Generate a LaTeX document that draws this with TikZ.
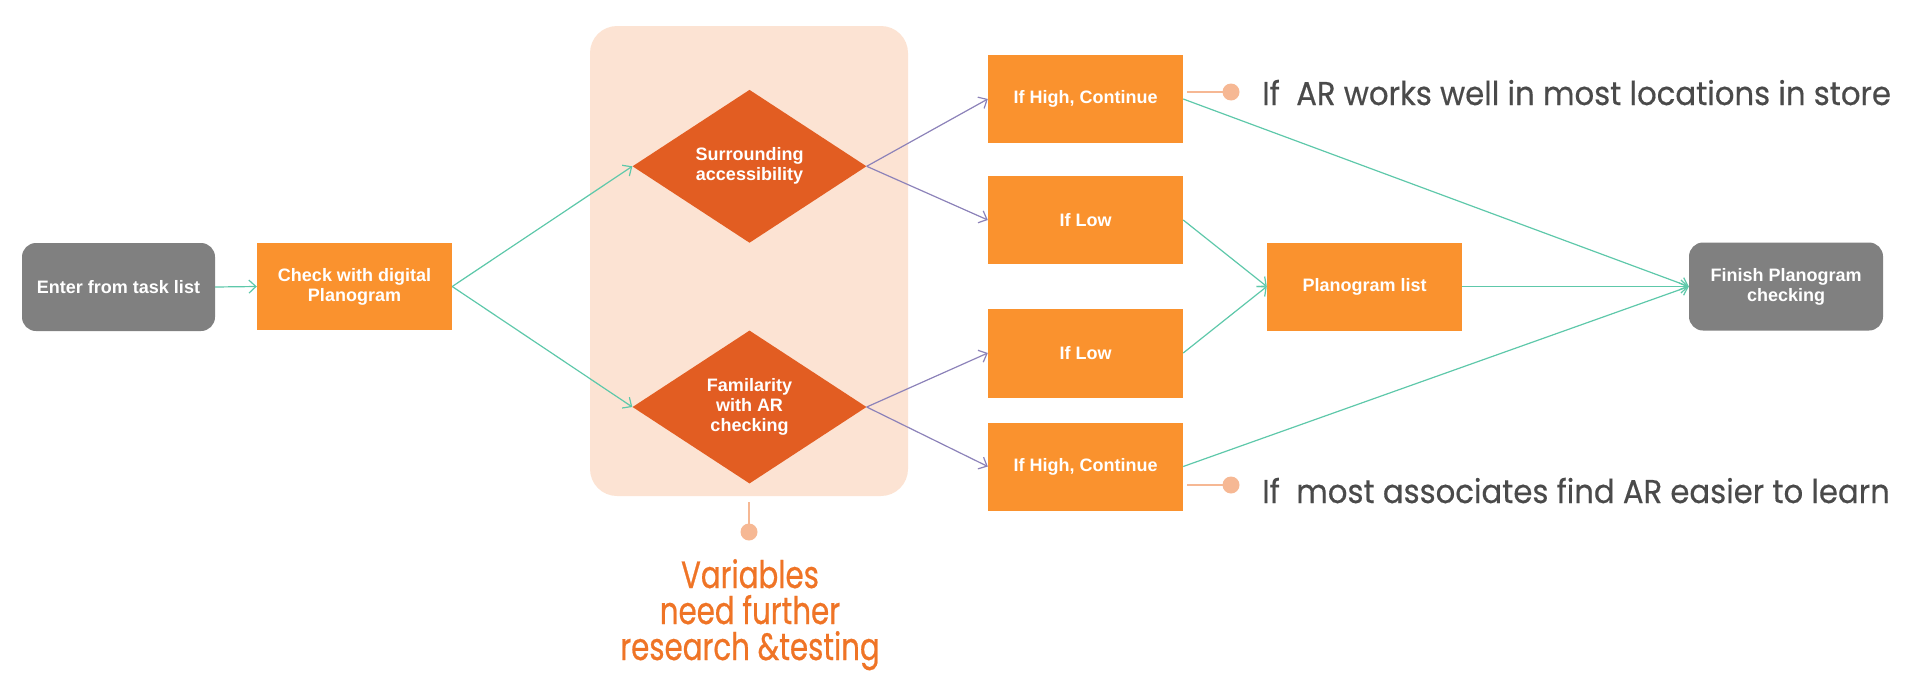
\documentclass[tikz,border=0pt]{standalone}
\usepackage{fontspec}
\setmainfont{Liberation Sans}
\newfontfamily\geo{Poppins}[FakeStretch=0.93,FakeBold=0.4]
\newfontfamily\geovar{Poppins}[FakeStretch=0.77,FakeBold=0.6]
\usetikzlibrary{arrows.meta,shapes.geometric}
\definecolor{boxor}{RGB}{250,146,46}
\definecolor{diaor}{RGB}{226,93,34}
\definecolor{bgpeach}{RGB}{252,227,211}
\definecolor{dotpeach}{RGB}{246,184,148}
\definecolor{graybox}{RGB}{128,128,128}
\definecolor{textgray}{RGB}{74,74,74}
\definecolor{varor}{RGB}{239,116,38}
\definecolor{arrgreen}{RGB}{94,200,170}
\definecolor{arrpurple}{RGB}{140,130,185}
\tikzset{
  boxtext/.style={font=\fontsize{18}{20}\selectfont\bfseries, text=white, align=center, inner sep=0pt},
  orbox/.style={boxtext, fill=boxor, minimum width=195pt, minimum height=88pt},
  graybx/.style={boxtext, fill=graybox, rounded corners=14pt, minimum width=194pt, minimum height=88pt},
  dia/.style={boxtext, diamond, fill=diaor, minimum width=234pt, minimum height=153pt},
  garrow/.style={draw=arrgreen, line width=1.2pt, -{Straight Barb[length=7pt,width=13pt]}},
  parrow/.style={draw=arrpurple, line width=1.2pt, -{Straight Barb[length=7pt,width=13pt]}},
  pline/.style={draw=dotpeach, line width=2pt},
  pdot/.style={circle, fill=dotpeach, minimum size=17pt, inner sep=0pt},
  note/.style={font=\geo\fontsize{33}{36}\selectfont, text=textgray, inner sep=0pt, anchor=base west},
}
\begin{document}
\begin{tikzpicture}[x=1pt,y=-1pt]
\useasboundingbox (0,0) rectangle (1908,680);
\fill[bgpeach, rounded corners=27pt] (590,26) rectangle (908,496);

\node[graybx, minimum width=193pt] (enter) at (118.5,287) {Enter from task list};
\node[orbox, minimum height=87pt] (check) at (354.5,286.5) {Check with digital\\Planogram};
\node[dia] (d1) at (749.5,166.3) {Surrounding\\accessibility};
\node[dia] (d2) at (749.5,407) {Familarity\\with AR\\checking};
\node[orbox] (b1) at (1085.5,99) {If High, Continue};
\node[orbox] (b2) at (1085.5,220) {If Low};
\node[orbox, minimum height=89pt] (b3) at (1085.5,353) {If Low};
\node[orbox] (b4) at (1085.5,466.5) {If High, Continue};
\node[orbox] (pl) at (1364.5,286.5) {Planogram list};
\node[graybx] (fin) at (1786,286.5) {Finish Planogram\\checking};

\draw[garrow] (enter.east) -- (check.west);
\draw[garrow] (check.east) -- (d1.west);
\draw[garrow] (check.east) -- (d2.west);
\draw[parrow] (d1.east) -- (b1.west);
\draw[parrow] (d1.east) -- (b2.west);
\draw[parrow] (d2.east) -- (b3.west);
\draw[parrow] (d2.east) -- (b4.west);
\draw[garrow] (b1.east) -- (fin.west);
\draw[garrow] (b2.east) -- (pl.west);
\draw[garrow] (b3.east) -- (pl.west);
\draw[garrow] (b4.east) -- (fin.west);
\draw[garrow] (pl.east) -- (fin.west);

\node[pdot] (dot1) at (1231,92) {};
\node[pdot] (dot2) at (1231,485) {};
\node[pdot] (dot3) at (749,532) {};
\coordinate (s1) at (1187,92);
\coordinate (s2) at (1187,485);
\coordinate (s3) at (749,502);
\draw[pline] (s1) -- (dot1.center);
\draw[pline] (s2) -- (dot2.center);
\draw[pline] (s3) -- (dot3.center);

\node[note] (n1) at (1262,105) {If\ \ AR works well in most locations in store};
\node[note] (n2) at (1262,503) {If\ \ most associates find AR easier to learn};
\node[font=\geovar\fontsize{38}{36}\selectfont, text=varor, align=center, inner sep=0pt, anchor=base] (var) at (750,660) {Variables\\need further\\research \&testing};
\end{tikzpicture}
\end{document}
